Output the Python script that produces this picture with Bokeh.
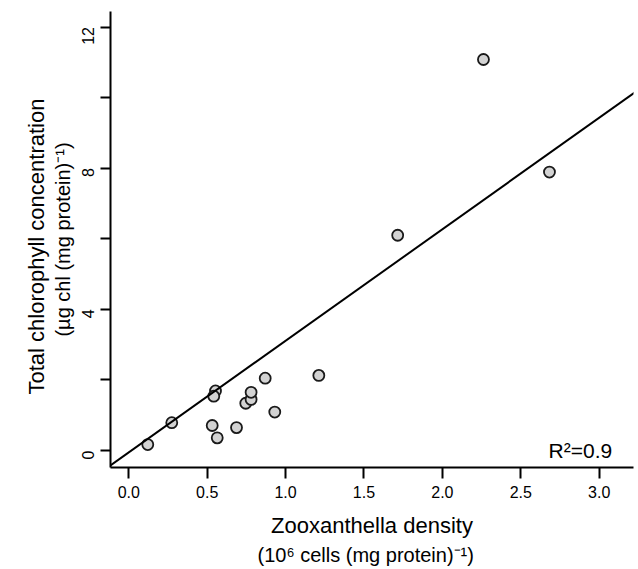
import math
from bokeh.plotting import figure
from bokeh.models import Range1d, FixedTicker, Label, Slope, Title
from bokeh.embed import file_html
from bokeh.resources import INLINE

# ---- data ----
zoox_density = [0.121, 0.274, 0.553, 0.542, 0.532, 0.564, 0.687, 0.746, 0.780, 0.780,
                0.870, 0.931, 1.212, 1.715, 2.262, 2.683]
total_chl = [0.17, 0.79, 1.69, 1.54, 0.71, 0.36, 0.65, 1.34, 1.45, 1.65,
             2.05, 1.09, 2.13, 6.10, 11.08, 7.89]
fit_slope = 3.16
fit_intercept = -0.05
r2_text = "R\u00b2=0.9"

x_ticks = [0.0, 0.5, 1.0, 1.5, 2.0, 2.5, 3.0]
x_tick_labels = ["0.0", "0.5", "1.0", "1.5", "2.0", "2.5", "3.0"]
y_ticks = [0, 4, 8, 12]
y_minor_ticks = [2, 6, 10]
y_tick_labels = ["0", "4", "8", "12"]

x_title = "Zooxanthella density"
x_subtitle = "(10\u2076 cells (mg protein)\u207b\u00b9)"
y_title = "Total chlorophyll concentration"
y_subtitle = "(\u00b5g chl (mg protein)\u207b\u00b9)"

FONT = "Liberation Sans"

p = figure(frame_width=523, frame_height=456,
           min_border_left=110, min_border_right=5, min_border_top=11, min_border_bottom=102,
           x_range=Range1d(-0.1167, 3.219), y_range=Range1d(-0.48, 12.44),
           output_backend="svg", toolbar_location=None)
p.xgrid.visible = False
p.ygrid.visible = False
p.outline_line_color = None
p.background_fill_color = "white"
p.border_fill_color = "white"

# axes
for ax in (p.xaxis[0], p.yaxis[0]):
    ax.axis_line_color = "black"
    ax.axis_line_width = 2
    ax.major_tick_line_color = "black"
    ax.major_tick_line_width = 2
    ax.major_tick_in = 0
    ax.major_label_text_font = FONT
    ax.major_label_text_font_size = "16px"
    ax.major_label_text_color = "black"
    ax.axis_label_text_font = FONT
    ax.axis_label_text_font_style = "normal"
    ax.axis_label_text_color = "black"

p.xaxis.ticker = FixedTicker(ticks=x_ticks, minor_ticks=[])
p.xaxis.major_label_overrides = {t: l for t, l in zip(x_ticks, x_tick_labels)}
p.xaxis.major_tick_out = 11
p.xaxis.major_label_standoff = 7
p.xaxis.minor_tick_line_color = None
p.xaxis.axis_label = x_title
p.xaxis.axis_label_text_font_size = "22px"
p.xaxis.axis_label_standoff = 12

p.yaxis.ticker = FixedTicker(ticks=y_ticks, minor_ticks=y_minor_ticks)
p.yaxis.major_label_overrides = {t: l for t, l in zip(y_ticks, y_tick_labels)}
p.yaxis.major_tick_out = 10
p.yaxis.minor_tick_out = 10
p.yaxis.minor_tick_in = 0
p.yaxis.minor_tick_line_color = "black"
p.yaxis.minor_tick_line_width = 2
p.yaxis.major_label_orientation = math.pi / 2
p.yaxis.major_label_standoff = 12
p.yaxis.axis_label = y_subtitle
p.yaxis.axis_label_text_font_size = "20px"
p.yaxis.axis_label_standoff = 0

# second line of the x title, first line of the y title
p.add_layout(Title(text=x_subtitle, align="left", offset=147, vertical_align="top",
                   standoff=6, text_font=FONT, text_font_size="20px",
                   text_font_style="normal", text_color="black"), "below")
p.add_layout(Title(text=y_title, align="left", offset=73, vertical_align="bottom",
                   standoff=0, text_font=FONT, text_font_size="22px",
                   text_font_style="normal", text_color="black"), "left")

# regression line
p.add_layout(Slope(gradient=fit_slope, y_intercept=fit_intercept,
                   line_color="black", line_width=2))

# points
p.scatter(zoox_density, total_chl, size=11, fill_color="#d3d3d3",
          line_color="#1a1a1a", line_width=1.8)

# R^2 annotation
p.add_layout(Label(x=3.083, y=0.0, text=r2_text, text_align="right",
                   text_baseline="alphabetic", text_font=FONT,
                   text_font_size="21px", text_color="black"))

open("out.html", "w").write(file_html(p, INLINE))
